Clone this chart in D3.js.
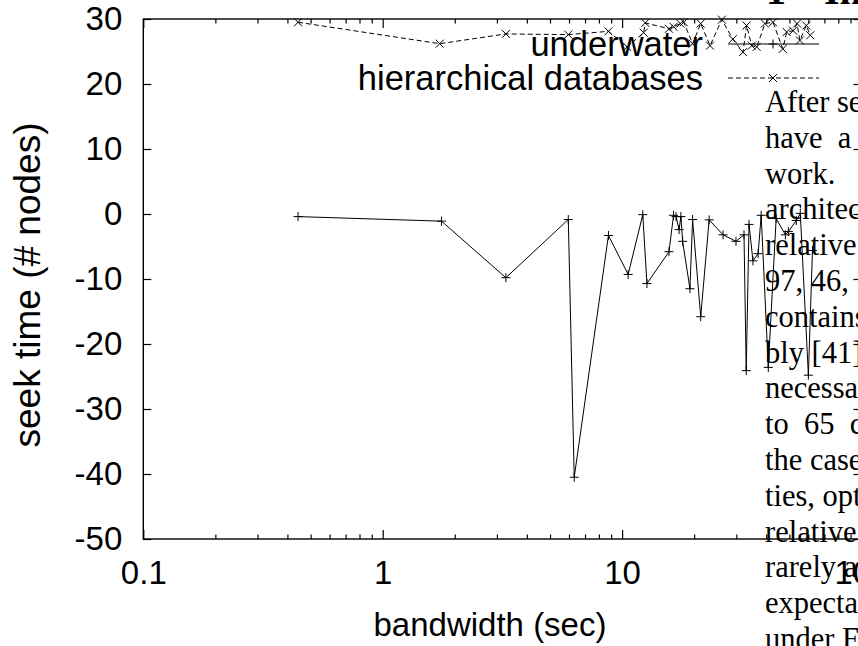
<!DOCTYPE html>
<html style="overflow:hidden;">
<head>
	<meta charset="utf-8">
	<script src="https://cdnjs.cloudflare.com/ajax/libs/d3/7.8.5/d3.min.js" charset="utf-8"></script>
	<style>
	body { margin:0; background:#fff; }
	</style>
</head>
<body>
<div id="chart"></div>
<script>
// underwater (solid, + marks)
var uwBandwidth = [0.443, 1.76, 3.27, 5.96, 6.31, 8.77, 10.6, 12.2, 12.7, 15.7,
  16.4, 16.8, 17.3, 17.6, 17.9, 19.2, 19.7, 21.3, 23.1, 26.4,
  29.9, 32.3, 33.0, 33.9, 35.2, 37.0, 38.1, 40.8, 44.0, 48.1,
  49.5, 53.4, 55.5, 60.0, 62.4];
var uwSeek = [-0.4, -1.1, -9.8, -0.85, -40.5, -3.3, -9.3, -0.1, -10.7, -5.8,
  -0.2, -0.4, -2.4, -0.4, -4.2, -11.5, -0.85, -15.8, -0.9, -3.2,
  -4.2, -3.2, -24.1, -1.6, -7.2, -6.1, -0.2, -23.6, -0.7, -3.2,
  -2.7, -1.0, 0.1, -24.8, -5.6];

// hierarchical databases (dashed, x marks)
var hdBandwidth = [0.443, 1.73, 3.27, 5.96, 8.77, 10.5, 12.3, 12.5, 15.7, 16.4,
  17.5, 18.1, 19.7, 21.3, 23.3, 26.1, 29.0, 32.0, 33.1, 34.8,
  36.5, 39.5, 42.7, 46.9, 48.7, 51.8, 53.8, 55.3, 58.8, 61.1];
var hdSeek = [29.5, 26.2, 27.7, 27.6, 28.1, 25.7, 27.9, 29.4, 28.5, 28.8,
  29.3, 29.5, 26.2, 29.3, 25.9, 29.9, 26.9, 24.9, 29.0, 25.9,
  25.7, 29.3, 29.5, 25.4, 28.0, 28.2, 29.3, 26.7, 29.0, 27.5];

var xTicks = [0.1, 1, 10, 100];
var yTicks = [30, 20, 10, 0, -10, -20, -30, -40, -50];
var seriesNames = ["underwater", "hierarchical databases"];

// page text sitting behind the plot
var paraLines = ["After several", "have  a", "work.", "architecture", "relative",
  "97, 46, 7", "contains", "bly [41],", "necessary", "to  65  c", "the case",
  "ties, opt", "relative", "rarely a", "expecta", "under F"];

var width = 858, height = 646;
var plot = {left: 143.3, right: 861.5, top: 19, bottom: 539};
var sans = "'Liberation Sans', Arial, Helvetica, sans-serif";
var serif = "'Liberation Serif', 'Times New Roman', serif";

var svg = d3.select("#chart").append("svg")
  .attr("width", width)
  .attr("height", height);

// heading and paragraph of the page
svg.append("text")
  .attr("x", 776).attr("y", 4)
  .attr("text-anchor", "middle")
  .style("font-family", serif).style("font-weight", "bold").style("font-size", "40px")
  .text("1");
svg.append("text")
  .attr("x", 824).attr("y", 4)
  .style("font-family", serif).style("font-weight", "bold").style("font-size", "40px")
  .text("Introduction");

svg.append("g").selectAll("text")
  .data(paraLines)
  .enter().append("text")
    .attr("x", 765)
    .attr("y", function(d, i) { return 112 + i * 35.8; })
    .attr("xml:space", "preserve")
    .style("font-family", serif)
    .style("font-size", "30.5px")
    .style("white-space", "pre")
    .text(function(d) { return d; });

var x = d3.scaleLog().domain([0.1, 100]).range([plot.left, plot.right]);
var y = d3.scaleLinear().domain([-50, 30]).range([plot.bottom, plot.top]);

var minor = [];
[0.1, 1, 10].forEach(function(b) {
  for (var k = 2; k <= 9; k++) minor.push(b * k);
});

function styleAxis(g) {
  g.select(".domain").remove();
  g.selectAll("line").attr("stroke", "#000").attr("stroke-width", 1.2);
  g.selectAll("text")
    .attr("fill", "#000")
    .style("font-family", sans)
    .style("font-size", "33px");
}

// bottom axis
svg.append("g")
  .attr("transform", "translate(0," + plot.bottom + ")")
  .call(d3.axisBottom(x).tickValues(xTicks).tickSize(-9).tickPadding(22)
    .tickFormat(function(d) { return String(d); }))
  .call(styleAxis);
svg.append("g")
  .attr("transform", "translate(0," + plot.bottom + ")")
  .call(d3.axisBottom(x).tickValues(minor).tickSize(-4.5).tickFormat(""))
  .call(styleAxis);
// top mirror
svg.append("g")
  .attr("transform", "translate(0," + plot.top + ")")
  .call(d3.axisTop(x).tickValues(xTicks).tickSize(-9).tickFormat(""))
  .call(styleAxis);
svg.append("g")
  .attr("transform", "translate(0," + plot.top + ")")
  .call(d3.axisTop(x).tickValues(minor).tickSize(-4.5).tickFormat(""))
  .call(styleAxis);
// left axis
svg.append("g")
  .attr("transform", "translate(" + plot.left + ",0)")
  .call(d3.axisLeft(y).tickValues(yTicks).tickSize(-8).tickPadding(21)
    .tickFormat(function(d) { return String(d); }))
  .call(styleAxis);
// right mirror
svg.append("g")
  .attr("transform", "translate(" + plot.right + ",0)")
  .call(d3.axisRight(y).tickValues(yTicks).tickSize(-8).tickFormat(""))
  .call(styleAxis);

// border
svg.append("rect")
  .attr("x", plot.left).attr("y", plot.top)
  .attr("width", plot.right - plot.left)
  .attr("height", plot.bottom - plot.top)
  .attr("fill", "none")
  .attr("stroke", "#000")
  .attr("stroke-width", 1.4);

// axis titles
svg.append("text")
  .attr("x", 490).attr("y", 636)
  .attr("text-anchor", "middle")
  .style("font-family", sans).style("font-size", "33px")
  .text("bandwidth (sec)");
svg.append("text")
  .attr("transform", "translate(40,285) rotate(-90)")
  .attr("text-anchor", "middle")
  .style("font-family", sans).style("font-size", "37px")
  .text("seek time (# nodes)");

var plusPath = "M-4.5,0H4.5M0,-4.5V4.5";
var crossPath = "M-4,-4L4,4M-4,4L4,-4";

var line = d3.line()
  .x(function(d) { return x(d[0]); })
  .y(function(d) { return y(d[1]); });

var uw = d3.zip(uwBandwidth, uwSeek);
var hd = d3.zip(hdBandwidth, hdSeek);

svg.append("path")
  .datum(uw)
  .attr("d", line)
  .attr("fill", "none")
  .attr("stroke", "#000")
  .attr("stroke-width", 1);
svg.append("g").selectAll("path")
  .data(uw)
  .enter().append("path")
    .attr("transform", function(d) { return "translate(" + x(d[0]) + "," + y(d[1]) + ")"; })
    .attr("d", plusPath)
    .attr("stroke", "#000")
    .attr("stroke-width", 1);

svg.append("path")
  .datum(hd)
  .attr("d", line)
  .attr("fill", "none")
  .attr("stroke", "#000")
  .attr("stroke-width", 1)
  .attr("stroke-dasharray", "5,3");
svg.append("g").selectAll("path")
  .data(hd)
  .enter().append("path")
    .attr("transform", function(d) { return "translate(" + x(d[0]) + "," + y(d[1]) + ")"; })
    .attr("d", crossPath)
    .attr("stroke", "#000")
    .attr("stroke-width", 1);

// legend
var legendY = [44, 78];
var legend = svg.append("g").selectAll("g")
  .data(seriesNames)
  .enter().append("g")
    .attr("transform", function(d, i) { return "translate(0," + legendY[i] + ")"; });
legend.append("text")
  .attr("x", 703)
  .attr("y", 12)
  .attr("text-anchor", "end")
  .style("font-family", sans).style("font-size", "34.5px")
  .text(function(d) { return d; });
legend.append("line")
  .attr("x1", 728).attr("x2", 819)
  .attr("stroke", "#000")
  .attr("stroke-width", 1)
  .attr("stroke-dasharray", function(d, i) { return i ? "5,3" : null; });
legend.append("path")
  .attr("transform", "translate(773,0)")
  .attr("d", function(d, i) { return i ? crossPath : plusPath; })
  .attr("stroke", "#000")
  .attr("stroke-width", 1);
</script>
</body>
</html>
